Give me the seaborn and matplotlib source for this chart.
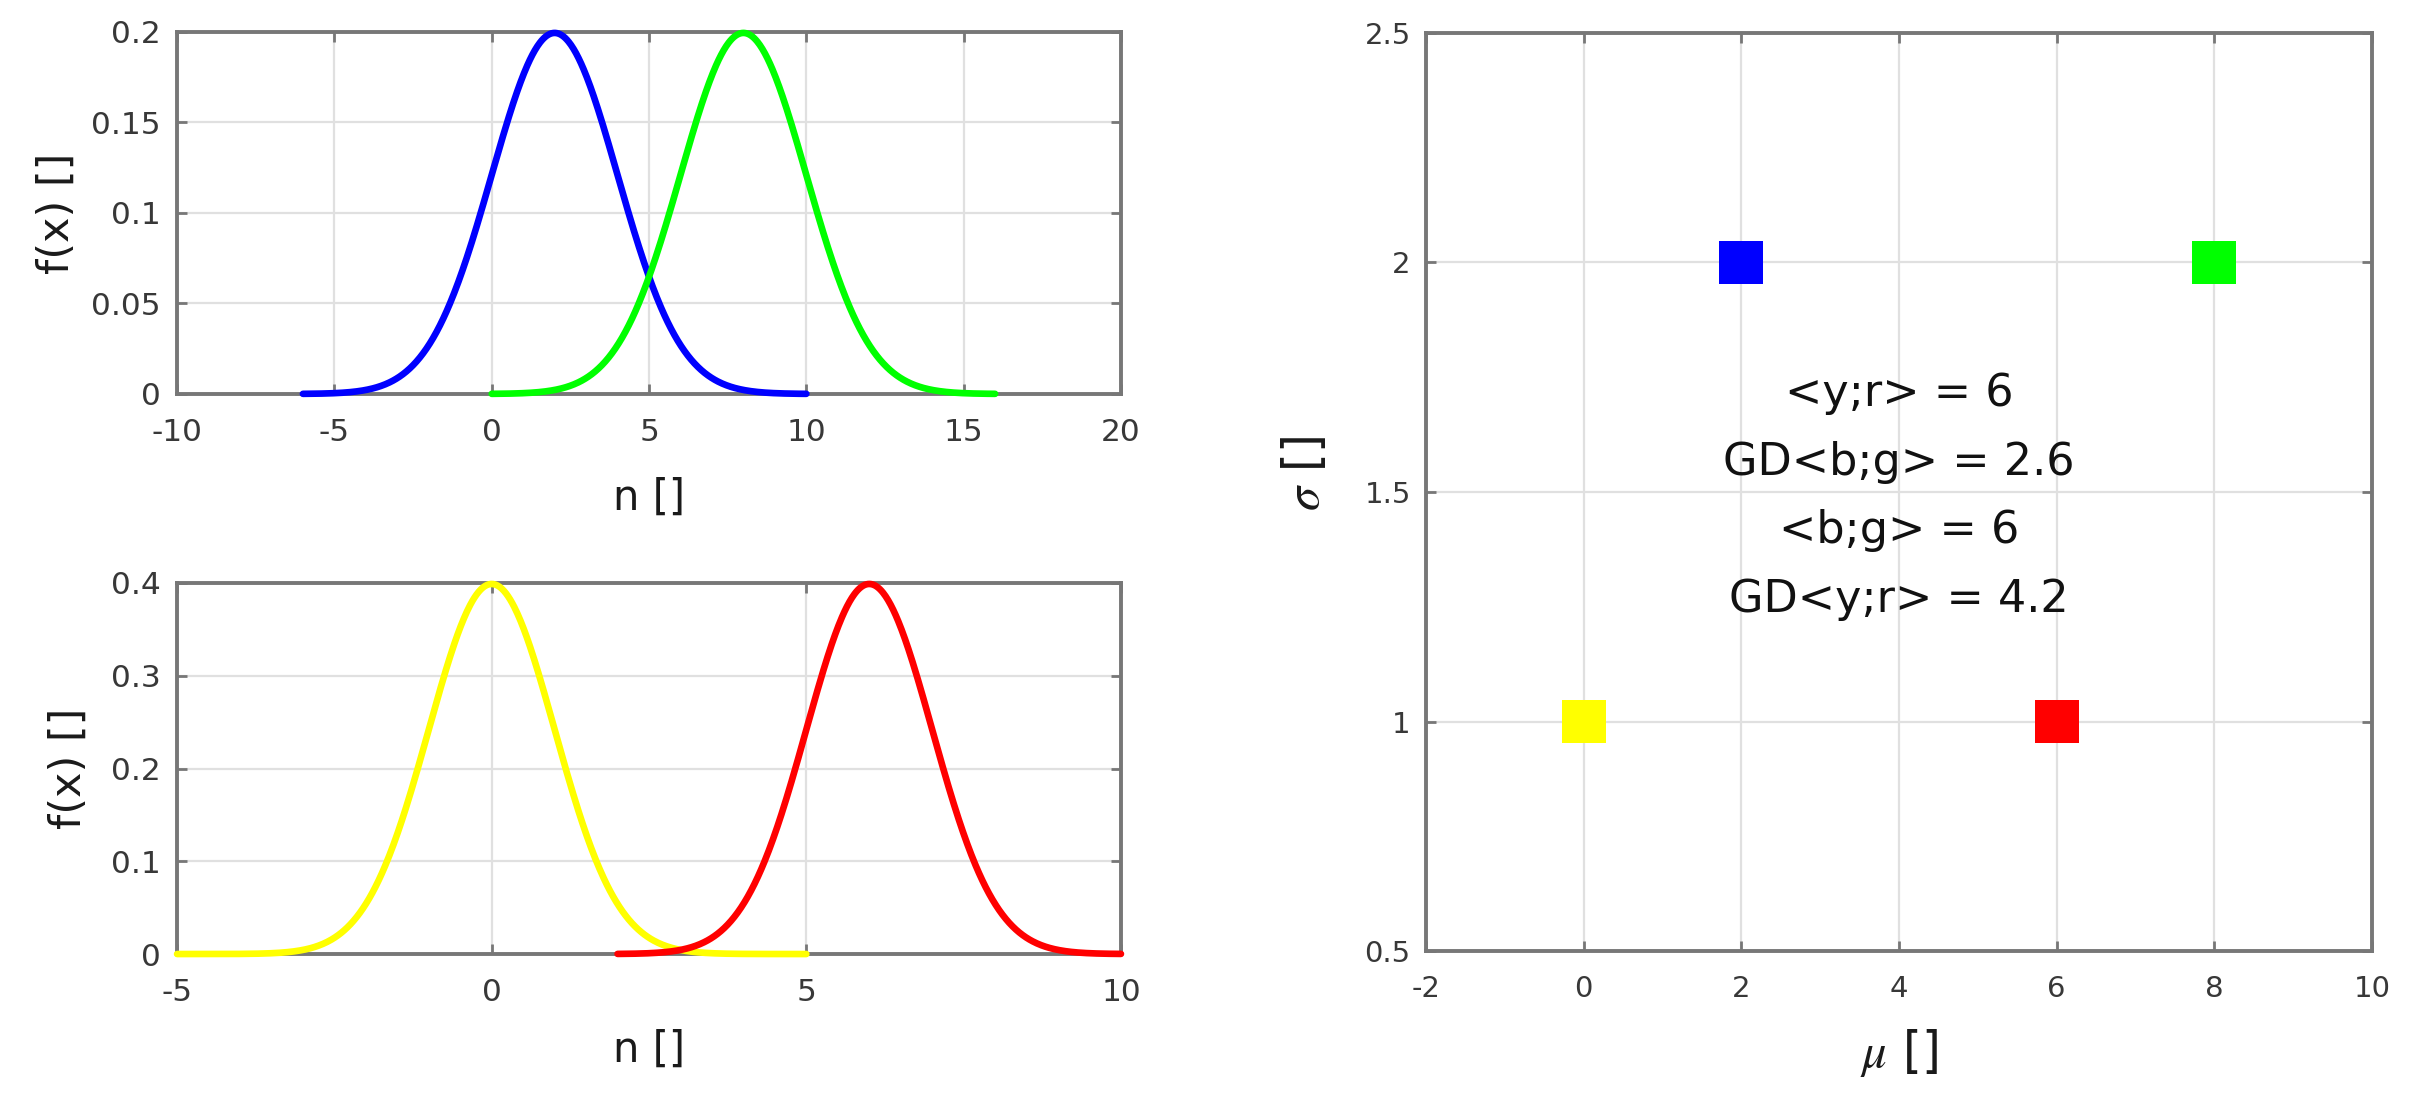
import numpy as np
import pandas as pd
import matplotlib
matplotlib.use("Agg")
import matplotlib.pyplot as plt
import seaborn as sns

# ---------------- data ----------------
top_names = ["blue", "green"]
top_mu = [2, 8]
top_sigma = [2, 2]
top_x_start = [-6, 0]
top_x_end = [10, 16]

bot_names = ["yellow", "red"]
bot_mu = [0, 6]
bot_sigma = [1, 1]
bot_x_start = [-5, 2]
bot_x_end = [5, 10]

point_names = ["yellow", "blue", "red", "green"]
point_mu = [0, 2, 6, 8]
point_sigma = [1, 2, 1, 2]

colors = {"blue": "#0000FF", "green": "#00FF00", "yellow": "#FFFF00", "red": "#FF0000"}

annotation_lines = ["<y;r> = 6", "GD<b;g> = 2.6", "<b;g> = 6", "GD<y;r> = 4.2"]

top_xticks = [-10, -5, 0, 5, 10, 15, 20]
top_xticklabels = ["-10", "-5", "0", "5", "10", "15", "20"]
top_yticks = [0, 0.05, 0.1, 0.15, 0.2]
top_yticklabels = ["0", "0.05", "0.1", "0.15", "0.2"]
bot_xticks = [-5, 0, 5, 10]
bot_xticklabels = ["-5", "0", "5", "10"]
bot_yticks = [0, 0.1, 0.2, 0.3, 0.4]
bot_yticklabels = ["0", "0.1", "0.2", "0.3", "0.4"]
right_xticks = [-2, 0, 2, 4, 6, 8, 10]
right_xticklabels = ["-2", "0", "2", "4", "6", "8", "10"]
right_yticks = [0.5, 1, 1.5, 2, 2.5]
right_yticklabels = ["0.5", "1", "1.5", "2", "2.5"]


def gauss_frame(names, mus, sigmas, x0s, x1s):
    frames = []
    for name, m, s, a, b in zip(names, mus, sigmas, x0s, x1s):
        x = np.linspace(a, b, 600)
        y = np.exp(-0.5 * ((x - m) / s) ** 2) / (s * np.sqrt(2 * np.pi))
        frames.append(pd.DataFrame({"n": x, "f": y, "curve": name}))
    return pd.concat(frames, ignore_index=True)


top_df = gauss_frame(top_names, top_mu, top_sigma, top_x_start, top_x_end)
bot_df = gauss_frame(bot_names, bot_mu, bot_sigma, bot_x_start, bot_x_end)
pts_df = pd.DataFrame({"mu": point_mu, "sigma": point_sigma, "name": point_names})

# ---------------- style ----------------
sns.set_theme(style="whitegrid")
plt.rcParams["font.family"] = ["DejaVu Sans"]
plt.rcParams["mathtext.fontset"] = "stix"

SPINE = "#777777"
TICKLAB = "#383838"
LABEL = "#1a1a1a"
GRID = "#e0e0e0"

fig = plt.figure(figsize=(24.19, 11.06), dpi=100)
ax_top = fig.add_axes([0.0732, 0.6438, 0.3902, 0.3273])
ax_bot = fig.add_axes([0.0732, 0.1374, 0.3902, 0.3355])
ax_r = fig.add_axes([0.5895, 0.1401, 0.3911, 0.8301])


def style_axes(ax, tick_size, xpad, ypad):
    ax.set_facecolor("white")
    ax.set_axisbelow(True)
    ax.grid(True, color=GRID, linewidth=1.6)
    for sp in ax.spines.values():
        sp.set_visible(True)
        sp.set_color(SPINE)
        sp.set_linewidth(2.8)
    ax.tick_params(axis="both", which="major", direction="in", length=7, width=2,
                   color=SPINE, labelcolor=TICKLAB, labelsize=tick_size,
                   top=True, right=True, bottom=True, left=True)
    ax.tick_params(axis="x", pad=xpad)
    ax.tick_params(axis="y", pad=ypad)


# top-left
sns.lineplot(data=top_df, x="n", y="f", hue="curve", palette=colors,
             hue_order=top_names, estimator=None, sort=False, linewidth=4.8,
             legend=False, ax=ax_top, clip_on=False, zorder=3)
ax_top.set_xlim(-10, 20)
ax_top.set_ylim(0, 0.2)
ax_top.set_xticks(top_xticks, top_xticklabels)
ax_top.set_yticks(top_yticks, top_yticklabels)
style_axes(ax_top, 22.5, 17, 12)
ax_top.set_xlabel("n []", fontsize=30, color=LABEL)
ax_top.set_ylabel("f(x) []", fontsize=31, color=LABEL)
ax_top.xaxis.label.set_va("center")
ax_top.yaxis.label.set_va("center")
ax_top.xaxis.set_label_coords(0.5, -0.287)
ax_top.yaxis.set_label_coords(-0.128, 0.5)

# bottom-left
sns.lineplot(data=bot_df, x="n", y="f", hue="curve", palette=colors,
             hue_order=bot_names, estimator=None, sort=False, linewidth=4.8,
             legend=False, ax=ax_bot, clip_on=False, zorder=3)
ax_bot.set_xlim(-5, 10)
ax_bot.set_ylim(0, 0.4)
ax_bot.set_xticks(bot_xticks, bot_xticklabels)
ax_bot.set_yticks(bot_yticks, bot_yticklabels)
style_axes(ax_bot, 22.5, 17, 12)
ax_bot.set_xlabel("n []", fontsize=30, color=LABEL)
ax_bot.set_ylabel("f(x) []", fontsize=31, color=LABEL)
ax_bot.xaxis.label.set_va("center")
ax_bot.yaxis.label.set_va("center")
ax_bot.xaxis.set_label_coords(0.5, -0.259)
ax_bot.yaxis.set_label_coords(-0.115, 0.5)

# right
sns.scatterplot(data=pts_df, x="mu", y="sigma", hue="name", palette=colors,
                marker="s", s=1000, linewidth=0, legend=False, ax=ax_r, zorder=3)
ax_r.set_xlim(-2, 10)
ax_r.set_ylim(0.5, 2.5)
ax_r.set_xticks(right_xticks, right_xticklabels)
ax_r.set_yticks(right_yticks, right_yticklabels)
style_axes(ax_r, 21, 17, 11)
ax_r.set_xlabel(r"$\mu$ []", fontsize=35, color=LABEL)
ax_r.set_ylabel(r"$\sigma$ []", fontsize=35, color=LABEL)
ax_r.xaxis.label.set_va("center")
ax_r.yaxis.label.set_va("center")
ax_r.xaxis.set_label_coords(0.5, -0.111)
ax_r.yaxis.set_label_coords(-0.128, 0.52)
ax_r.text(4, 1.49, "\n".join(annotation_lines), ha="center", va="center",
          fontsize=32, linespacing=1.75, color="#111111", zorder=4)

fig.savefig("out.png", dpi=100, facecolor="white")
